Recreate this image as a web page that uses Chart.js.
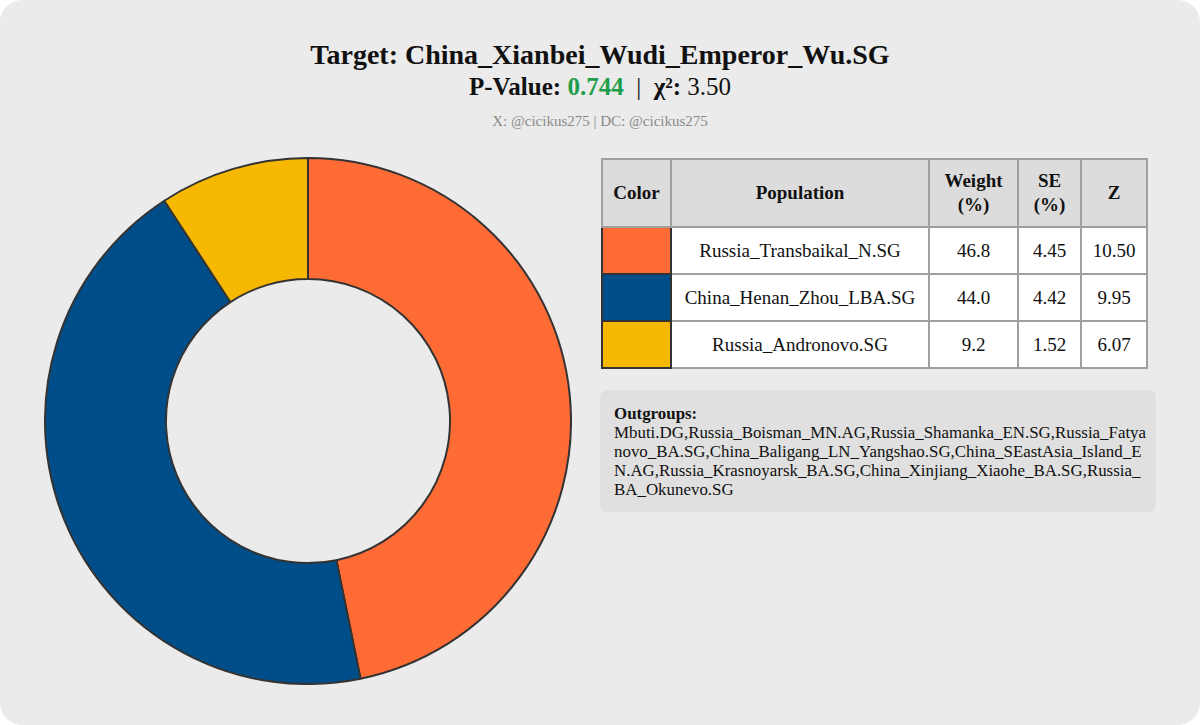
<!DOCTYPE html>
<html>
<head>
<meta charset="utf-8">
<script src="https://cdn.jsdelivr.net/npm/chart.js@4.4.1/dist/chart.umd.min.js"></script>
<style>
    html, body { margin: 0; padding: 0; background: #ffffff; }
    body { width: 1200px; height: 725px; overflow: hidden; font-family: "Liberation Serif", "DejaVu Serif", serif; }
    .card { position: absolute; left: 0; top: 0; width: 1200px; height: 725px; background: #ebebeb; border-radius: 22px; }
    .title { position: absolute; left: 0; width: 1200px; text-align: center; color: #111; }
    #t1 { top: 39px; font-size: 28px; font-weight: bold; }
    #t2 { top: 73px; font-size: 25px; }
    #t2 b { font-weight: bold; }
    #pval { color: #1e9e4a; font-weight: bold; }
    #t3 { top: 113px; font-size: 15px; color: #8a8a8a; }
    #chartBox { position: absolute; left: 44px; top: 157px; width: 528px; height: 528px; }
    table { position: absolute; left: 601px; top: 158px; border-collapse: collapse; font-size: 19px; color: #111; }
    th, td { border: 2px solid #a0a0a0; text-align: center; padding: 0; }
    th { background: #dcdcdc; height: 66px; font-weight: bold; line-height: 24px; }
    td { background: #ffffff; height: 45px; }
    td.sw { border: 2px solid #333; }
    .outgroups { position: absolute; left: 600px; top: 390px; width: 536px; height: 98px; padding: 14px 6px 10px 14px; background: #e0e0e0; border-radius: 7px; font-size: 16.9px; line-height: 19px; color: #111; word-break: break-all; }
</style>
</head>
<body>
<div class="card"></div>
<div class="title" id="t1"></div>
<div class="title" id="t2"></div>
<div class="title" id="t3"></div>
<div id="chartBox"><canvas id="donut" width="528" height="528"></canvas></div>
<table id="tbl">
    <thead>
        <tr>
            <th style="width:67px">Color</th>
            <th style="width:256px">Population</th>
            <th style="width:87px">Weight<br>(%)</th>
            <th style="width:61px">SE<br>(%)</th>
            <th style="width:64px">Z</th>
        </tr>
    </thead>
    <tbody></tbody>
</table>
<div class="outgroups" id="outgroups"></div>

<script>
const target = "China_Xianbei_Wudi_Emperor_Wu.SG";
const pValue = "0.744";
const chiSq = "3.50";
const credit = "X: @cicikus275 | DC: @cicikus275";

const populations = ["Russia_Transbaikal_N.SG", "China_Henan_Zhou_LBA.SG", "Russia_Andronovo.SG"];
const weights = [46.8, 44.0, 9.2];
const seValues = [4.45, 4.42, 1.52];
const zValues = [10.50, 9.95, 6.07];
const colors = ["#FF6B35", "#004E89", "#F7B801"];

const outgroups = ["Mbuti.DG", "Russia_Boisman_MN.AG", "Russia_Shamanka_EN.SG", "Russia_Fatyanovo_BA.SG",
    "China_Baligang_LN_Yangshao.SG", "China_SEastAsia_Island_EN.AG", "Russia_Krasnoyarsk_BA.SG",
    "China_Xinjiang_Xiaohe_BA.SG", "Russia_BA_Okunevo.SG"];

document.getElementById("t1").textContent = "Target: " + target;
document.getElementById("t2").innerHTML = '<b>P-Value:</b> <span id="pval">' + pValue + '</span> &nbsp;|&nbsp; <b>χ²:</b> ' + chiSq;
document.getElementById("t3").textContent = credit;

document.querySelector("#tbl tbody").innerHTML = populations.map((p, i) => `
    <tr>
        <td class="sw" style="background:${colors[i]}"></td>
        <td>${p}</td>
        <td>${weights[i].toFixed(1)}</td>
        <td>${seValues[i].toFixed(2)}</td>
        <td>${zValues[i].toFixed(2)}</td>
    </tr>
`).join("");

document.getElementById("outgroups").innerHTML = "<b>Outgroups:</b><br>" + outgroups.join(",");

new Chart(document.getElementById("donut"), {
    type: "doughnut",
    data: {
        labels: populations,
        datasets: [{
            data: weights,
            backgroundColor: colors,
            borderColor: "#333333",
            borderWidth: 2
        }]
    },
    options: {
        responsive: false,
        animation: false,
        cutout: "54%",
        plugins: {
            legend: { display: false },
            tooltip: { enabled: false }
        }
    }
});
</script>
</body>
</html>
